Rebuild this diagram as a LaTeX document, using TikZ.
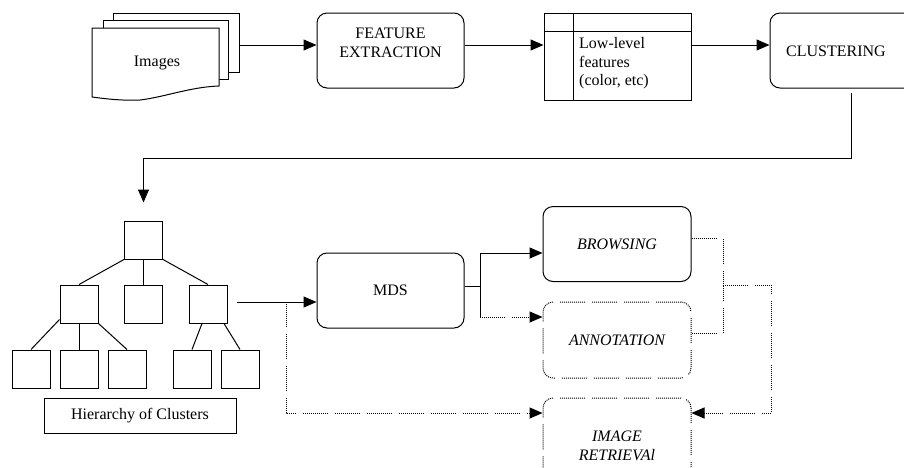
\documentclass[tikz,border=0pt]{standalone}
\usepackage{fontspec}
\setmainfont{Liberation Serif}
\usetikzlibrary{arrows.meta,calc}
\newcommand\dfont{\fontsize{16}{18.5}\selectfont}
\tikzset{
  ln/.style={line width=1pt},
  arr/.style={ln,-{Triangle[length=13pt,width=11pt]}},
  dots/.style={line width=1pt,dash pattern=on 1pt off 1pt on 1pt off 1pt on 1pt off 1pt on 1pt off 1pt on 1pt off 1pt on 1pt off 1pt on 1pt off 1pt on 1pt off 1pt on 1pt off 1pt on 1pt off 1pt on 1pt off 1pt on 1pt off 1pt on 1pt off 7pt},
  rbox/.style={ln,draw,rounded corners=10pt,fill=white,inner sep=0pt},
  dbox/.style={dots,draw,rounded corners=10pt,inner sep=0pt},
  sq/.style={ln,draw,minimum width=38pt,minimum height=38pt,inner sep=0pt},
  txt/.style={font=\dfont,inner sep=0pt,align=center},
}
\begin{document}
\begin{tikzpicture}[x=1pt,y=-1pt]
\useasboundingbox (0,0) rectangle (904,467);
\clip (0,0) rectangle (904,467);

% Images stack
\node[ln,draw,fill=white,minimum width=126pt,minimum height=59pt,inner sep=0pt] (imgback) at (176,42.5) {};
\node[ln,draw,fill=white,minimum width=125pt,minimum height=59pt,inner sep=0pt] (imgmid) at (165.5,49.5) {};
\draw[ln,fill=white] (92,28) -- (219,28) -- (219,86) .. controls (190,87) and (165,97) .. (140,100) .. controls (120,101) and (100,98) .. (92,97) -- cycle;
\node[txt] (imgt) at (157,63) {Images};

% Feature extraction
\node[rbox,minimum width=147pt,minimum height=75pt] (fe) at (390.5,50.5) {};
\node[txt] (fet) at (390.5,43) {FEATURE\\EXTRACTION};

% Table
\node[ln,draw,minimum width=147pt,minimum height=87pt,inner sep=0pt] (tab) at (617.5,56.5) {};
\draw[ln] (573,13) -- (573,100);
\draw[ln] (544,31) -- (691,31);
\node[txt,align=left,anchor=west] (tabt) at (579,63.5) {Low-level\\features\\(color, etc)};

% Clustering
\node[rbox,minimum width=148pt,minimum height=75pt] (clu) at (844,50.5) {};
\node[txt] (clut) at (836,51) {CLUSTERING};

\coordinate (row) at (0,45);
\draw[arr] (imgback.east |- row) -- (fe.west |- row);
\draw[arr] (fe.east |- row) -- (tab.west |- row);
\draw[arr] (tab.east |- row) -- (clu.west |- row);

% Tree
\node[sq] (root) at (143.5,240) {};
\node[sq] (l2a) at (79,304) {};
\node[sq] (l2b) at (143.5,304) {};
\node[sq] (l2c) at (208,304) {};
\node[sq] (l3a) at (31,369) {};
\node[sq] (l3b) at (79,369) {};
\node[sq] (l3c) at (127,369) {};
\node[sq] (l3d) at (192,369) {};
\node[sq] (l3e) at (240,369) {};
\draw[ln] (root.south west) -- (l2a.north);
\draw[ln] (root.south) -- (l2b.north);
\draw[ln] (root.south east) -- (l2c.north);
\draw[ln] ([yshift=4pt]l2a.south west) -- (l3a.north);
\draw[ln] (l2a.south) -- (l3b.north);
\draw[ln] (l2a.south east) -- (l3c.north);
\draw[ln] ([xshift=-6pt]l2c.south) -- (l3d.north);
\draw[ln] ([xshift=16pt]l2c.south) -- (l3e.north);
\node[ln,draw,minimum width=192pt,minimum height=35pt,inner sep=0pt,font=\dfont] (hier) at (140,415.5) {Hierarchy of Clusters};

% Clustering -> tree
\coordinate (cdown) at (851,93);
\coordinate (bend) at (143.5,158);
\draw[arr,shorten >=18pt] (cdown) |- (bend) -- (root.north);

% MDS and outputs
\node[rbox,minimum width=147pt,minimum height=75pt,font=\dfont] (mds) at (390.5,290.5) {MDS};
\node[rbox,minimum width=148pt,minimum height=75pt,font=\dfont\itshape] (brow) at (617,244) {BROWSING};
\node[dbox,minimum width=148pt,minimum height=76pt,font=\dfont\itshape] (ann) at (617,340) {ANNOTATION};
\node[dbox,minimum width=148pt,minimum height=84pt] (ir) at (617,440) {};
\node[txt,font=\dfont\itshape] (irt) at (617,446) {IMAGE\\RETRIEVAl};

\coordinate (treeout) at (237,302);
\draw[arr] (treeout) -- (mds.west |- treeout);
\coordinate (dj) at (286,302);
\coordinate (irl) at (0,413);
\draw[arr,dots] (dj) |- (ir.west |- irl);

\coordinate (split) at (480,286);
\coordinate (bt) at (480,253);
\coordinate (bb) at (480,317);
\draw[ln] (mds.east |- split) -- (split);
\draw[ln] (bt) -- (bb);
\draw[arr] (bt) -- (brow.west |- bt);
\draw[arr,dots] (bb) -- (ann.west |- bb);

% Right feedback connectors
\coordinate (jn) at (723,285);
\coordinate (rr) at (771,285);
\draw[dots] (brow.east |- 0,238) -| (jn);
\draw[dots] (ann.east |- 0,333) -| (jn);
\draw[arr,dots] (jn) -- (rr) |- (ir.east |- irl);
\end{tikzpicture}
\end{document}
